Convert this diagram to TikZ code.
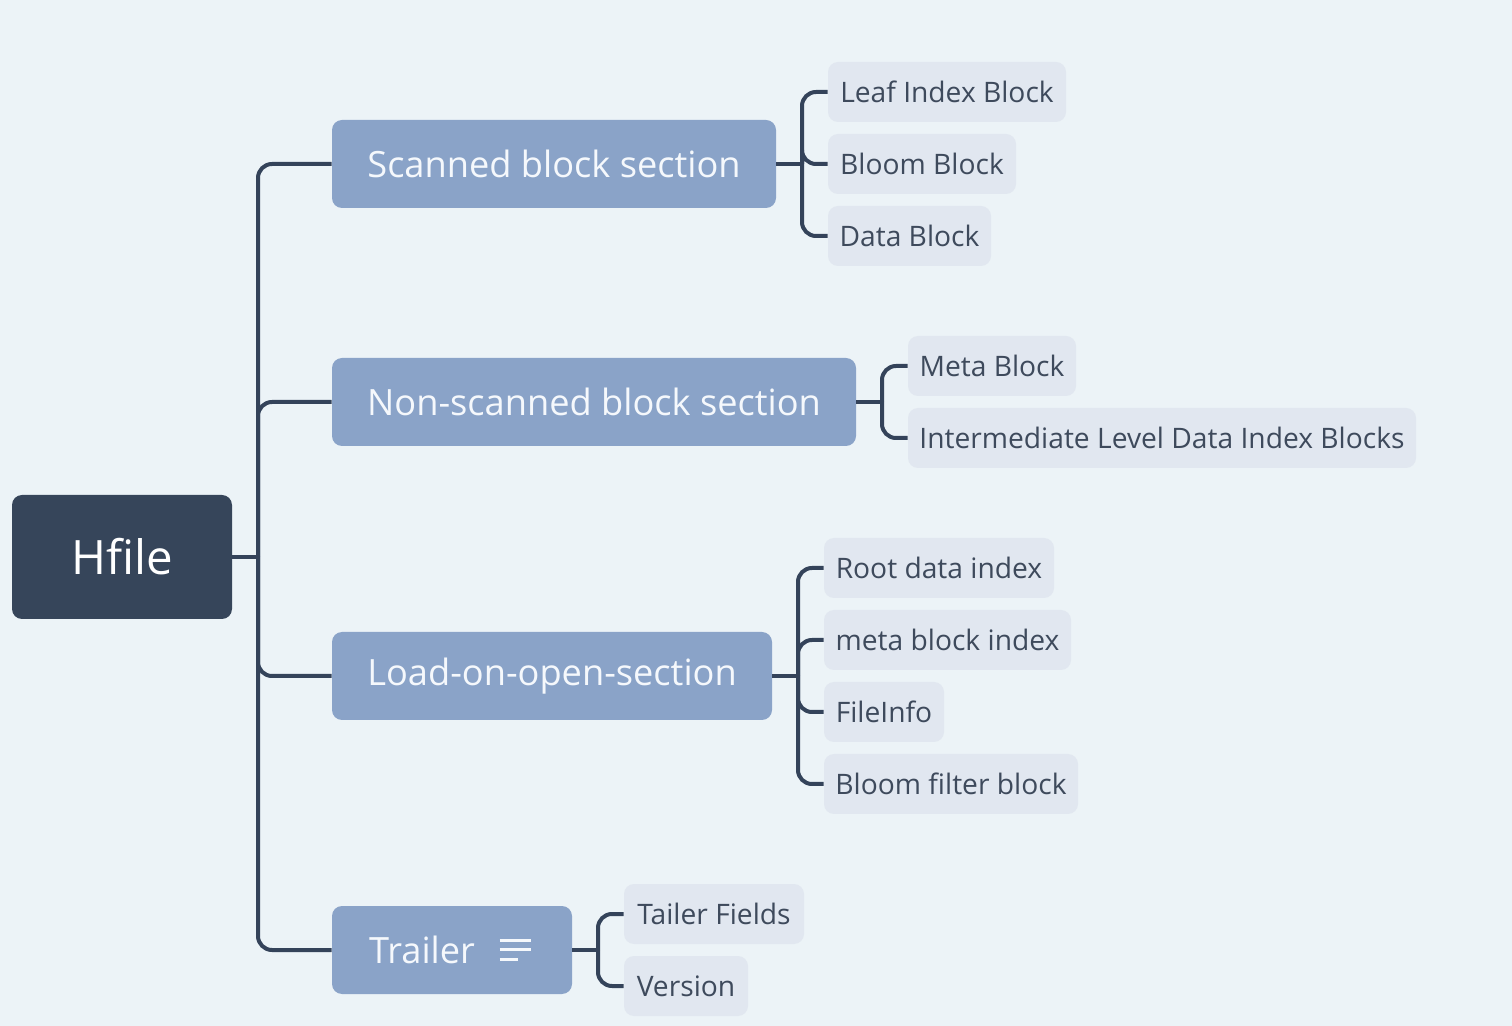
\documentclass[tikz,border=0pt]{standalone}
\usepackage{fontspec}
\setmainfont{Open Sans}
\definecolor{bg}{HTML}{ECF3F7}
\definecolor{rootc}{HTML}{36455A}
\definecolor{mainc}{HTML}{8AA3C8}
\definecolor{subc}{HTML}{E1E7F0}
\definecolor{subtext}{HTML}{3E4A5C}
\definecolor{linec}{HTML}{34435A}
\definecolor{maintext}{HTML}{F5F8FC}
\tikzset{
  rootbox/.style={fill=rootc, rounded corners=5pt, text=white, font=\fontsize{23.7}{28}\selectfont, minimum height=62pt, inner sep=0pt},
  mainbox/.style={fill=mainc, rounded corners=5pt, text=maintext, font=\fontsize{18.1}{22}\selectfont, minimum height=44pt, inner sep=0pt},
  subbox/.style={fill=subc, rounded corners=5pt, text=subtext, font=\fontsize{14.1}{17}\selectfont, minimum height=30pt, inner sep=0pt},
  conn/.style={draw=linec, line width=2pt, rounded corners=7pt},
  icon/.style={draw=maintext, line width=1.5pt}
}
\begin{document}
\begin{tikzpicture}[x=0.5pt,y=-0.5pt]
\fill[bg] (0,0) rectangle (1512,1026);
\useasboundingbox (0,0) rectangle (1512,1026);

% root
\node[rootbox, minimum width=110pt] (hfile) at (122,557) {Hfile};

% main topics
\node[mainbox, minimum width=222pt] (scanned) at (554,164) {Scanned block section};
\node[mainbox, minimum width=262pt] (nonscan) at (594,402) {Non-scanned block section};
\node[mainbox, minimum width=220pt] (load) at (552,676) {Load-on-open-section};
\node[mainbox, minimum width=120pt] (trailer) at (452,950) {Trailer\hspace*{30pt}};
\draw[icon] ([xshift=84pt,yshift=5pt]trailer.west) -- ++(15.5pt,0);
\draw[icon] ([xshift=84pt,yshift=0.5pt]trailer.west) -- ++(15.5pt,0);
\draw[icon] ([xshift=84pt,yshift=-4.5pt]trailer.west) -- ++(9pt,0);

% sub topics
\node[subbox, minimum width=119pt] (leaf) at (947,92) {Leaf Index Block};
\node[subbox, minimum width=94pt] (bloom) at (922,164) {Bloom Block};
\node[subbox, minimum width=81.5pt] (data) at (909.5,236) {Data Block};
\node[subbox, minimum width=84pt] (meta) at (992,366) {Meta Block};
\node[subbox, minimum width=254pt] (inter) at (1162,438) {Intermediate Level Data Index Blocks};
\node[subbox, minimum width=115pt] (rootidx) at (939,568) {Root data index};
\node[subbox, minimum width=123.5pt] (metaidx) at (947.5,640) {meta block index};
\node[subbox, minimum width=60pt] (fileinfo) at (884,712) {FileInfo};
\node[subbox, minimum width=127pt] (bloomf) at (951,784) {Bloom filter block};
\node[subbox, minimum width=90pt] (tailer) at (714,914) {Tailer Fields};
\node[subbox, minimum width=62pt] (version) at (686,986) {Version};

% junctions
\coordinate (hj) at (258,557);
\coordinate (sj) at (802,164);
\coordinate (nj) at (882,402);
\coordinate (lj) at (798,676);
\coordinate (tj) at (598,950);

% connectors root
\draw[conn] (hfile.east) -- (hj);
\foreach \c in {scanned,nonscan,load,trailer}
  \draw[conn] (hj) |- (\c.west);

% connectors sub
\draw[conn] (scanned.east) -- (sj);
\foreach \c in {leaf,bloom,data}
  \draw[conn] (sj) |- (\c.west);
\draw[conn] (nonscan.east) -- (nj);
\foreach \c in {meta,inter}
  \draw[conn] (nj) |- (\c.west);
\draw[conn] (load.east) -- (lj);
\foreach \c in {rootidx,metaidx,fileinfo,bloomf}
  \draw[conn] (lj) |- (\c.west);
\draw[conn] (trailer.east) -- (tj);
\foreach \c in {tailer,version}
  \draw[conn] (tj) |- (\c.west);
\end{tikzpicture}
\end{document}
